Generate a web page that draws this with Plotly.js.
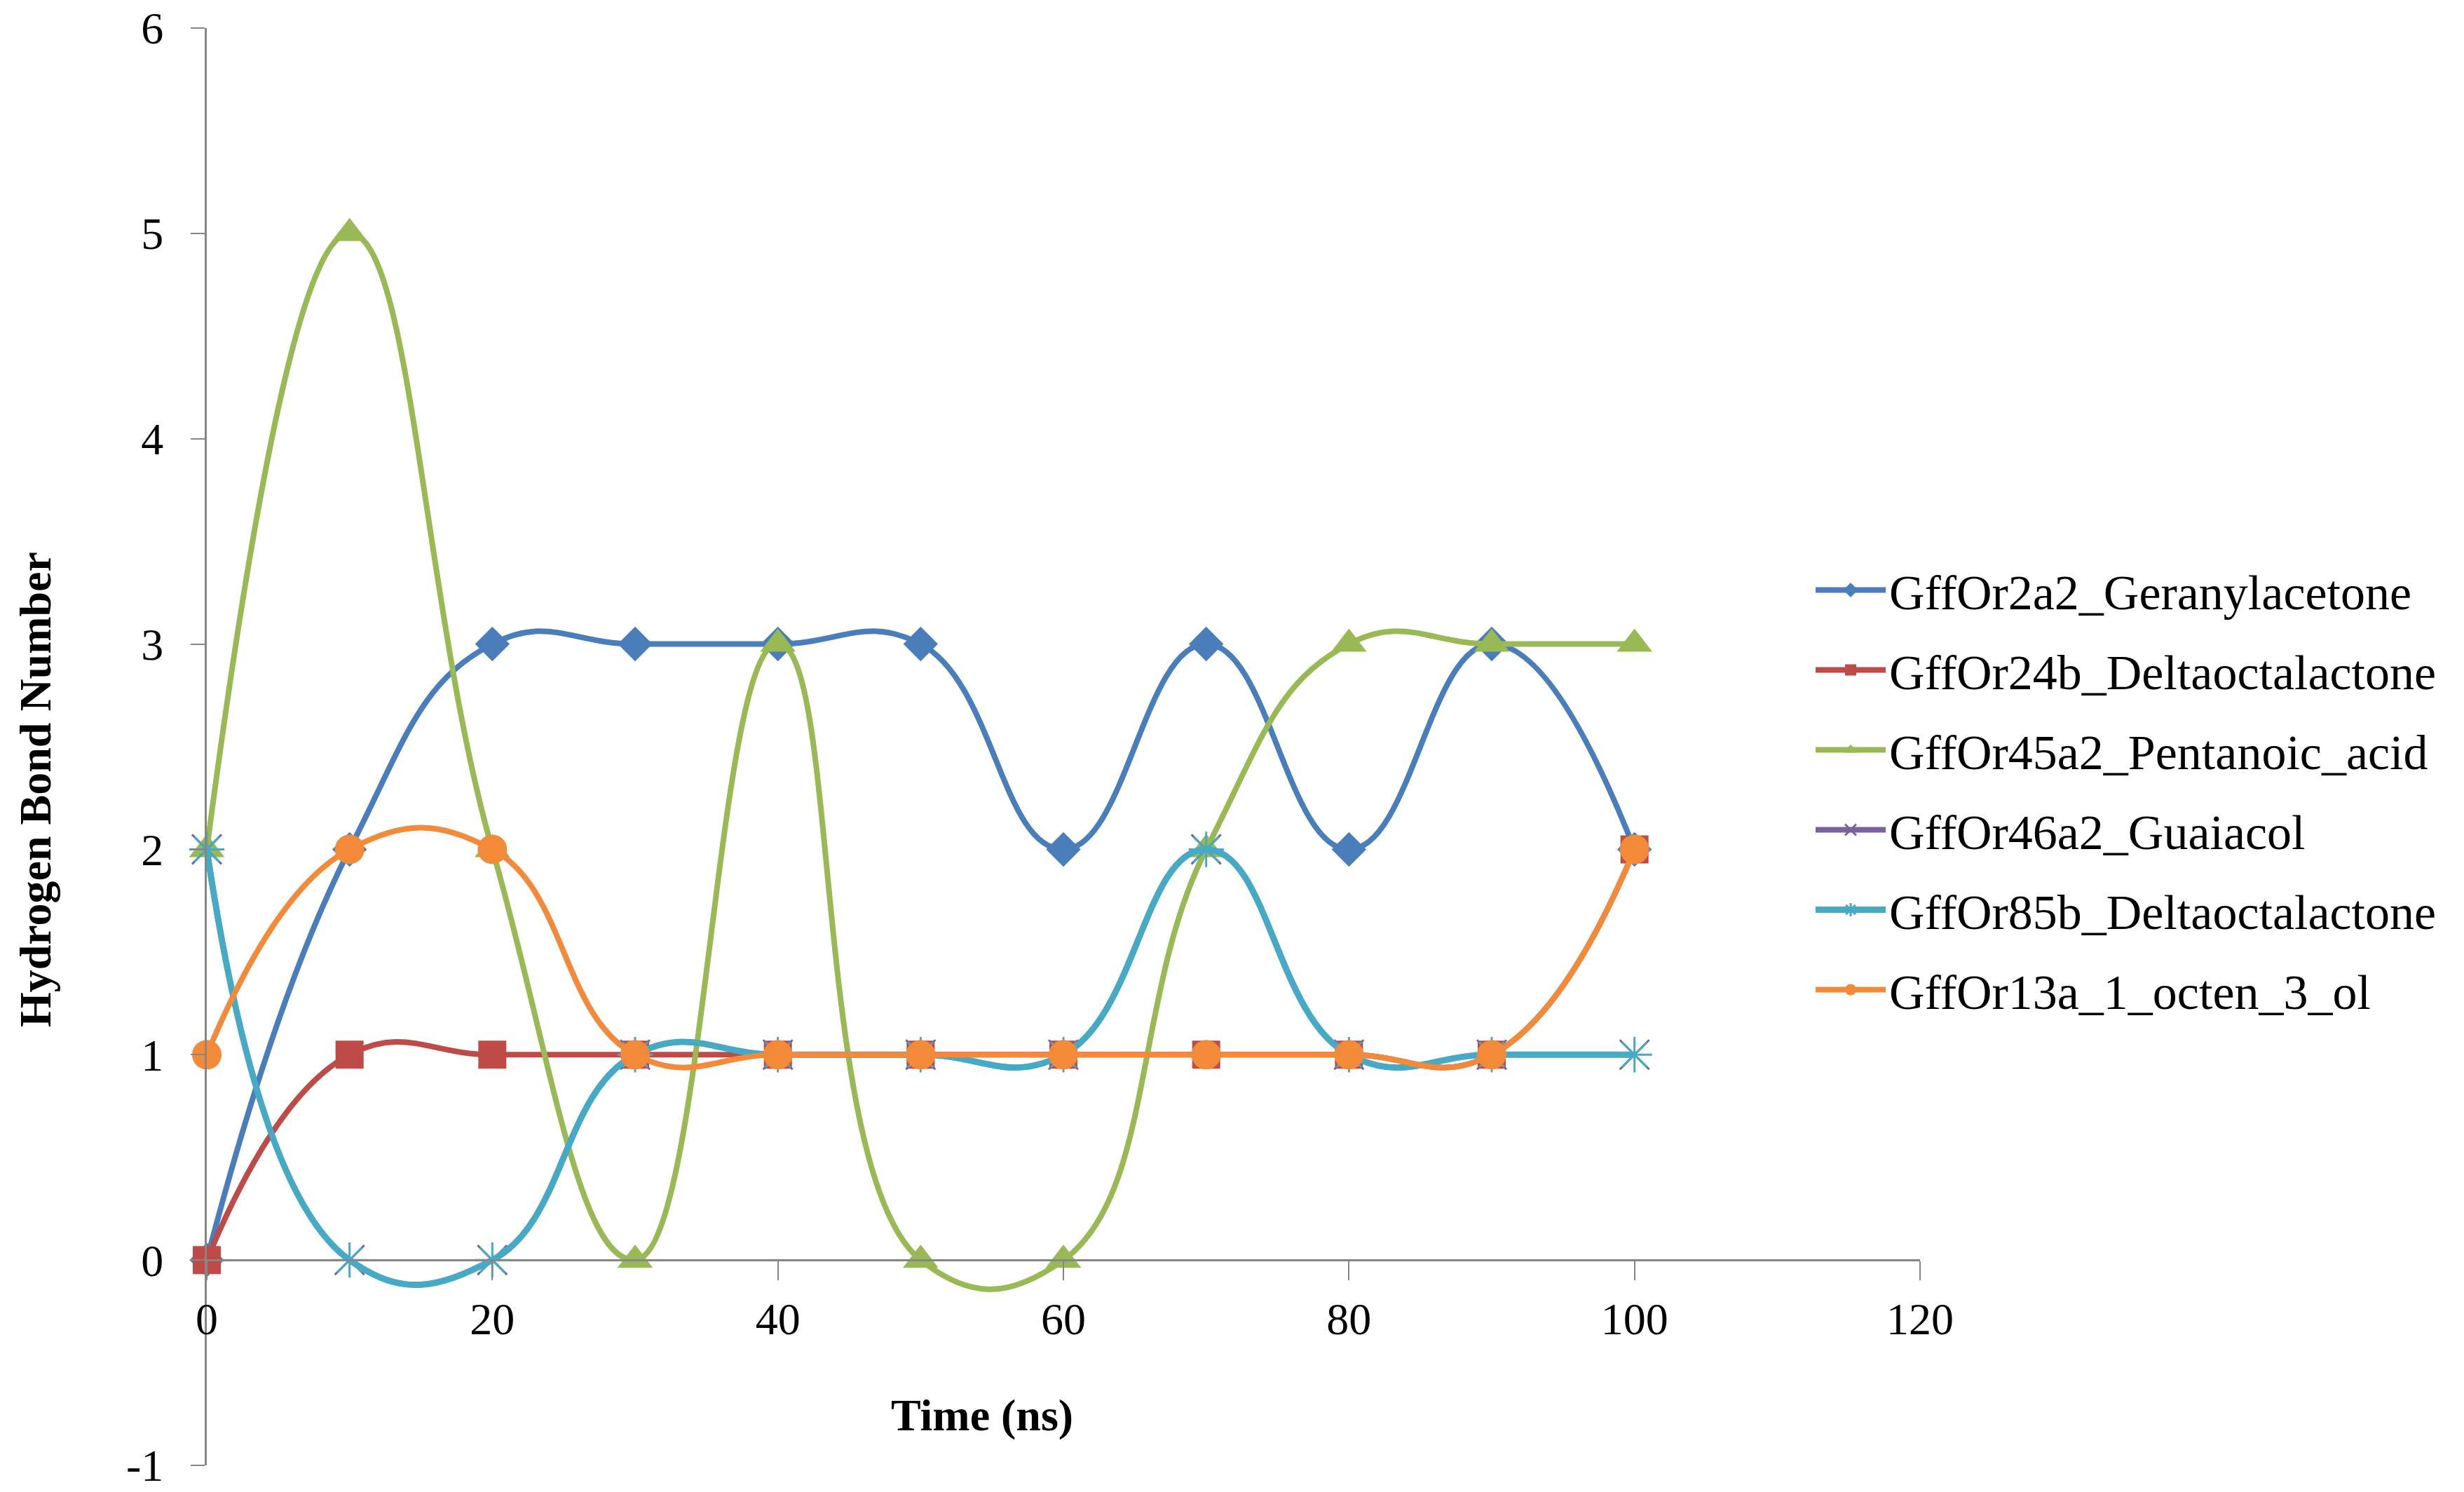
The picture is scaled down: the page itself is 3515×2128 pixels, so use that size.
<!doctype html>
<html>
<head>
  <meta charset="utf-8">
  <title>Hydrogen Bond Number</title>
  <script src="https://cdn.plot.ly/plotly-3.0.1.min.js"></script>
  <style>
    body { margin: 0; background: #fff; }
    #chart { width: 3515px; height: 2128px; }
  </style>
</head>
<body>
  <div id="chart"></div>
  <script>
    // time points (ns)
    var time = [0, 10, 20, 30, 40, 50, 60, 70, 80, 90, 100];

    // hydrogen bond counts per complex
    var geranylacetone = [0, 2, 3, 3, 3, 3, 2, 3, 2, 3, 2];
    var deltaoctalactone24b = [0, 1, 1, 1, 1, 1, 1, 1, 1, 1, 2];
    var pentanoicAcid = [2, 5, 2, 0, 3, 0, 0, 2, 3, 3, 3];
    var guaiacol = [2, 0, 0, 1, 1, 1, 1, 2, 1, 1, 1];
    var deltaoctalactone85b = [2, 0, 0, 1, 1, 1, 1, 2, 1, 1, 1];
    var octenol = [1, 2, 2, 1, 1, 1, 1, 1, 1, 1, 2];

    var names = ['GffOr2a2_Geranylacetone', 'GffOr24b_Deltaoctalactone', 'GffOr45a2_Pentanoic_acid',
                 'GffOr46a2_Guaiacol', 'GffOr85b_Deltaoctalactone', 'GffOr13a_1_octen_3_ol'];
    var yTicks = [-1, 0, 1, 2, 3, 4, 5, 6];
    var xTicks = [0, 20, 40, 60, 80, 100, 120];

    var series = [geranylacetone, deltaoctalactone24b, pentanoicAcid, guaiacol, deltaoctalactone85b, octenol];
    var colors = ['#4A7EBB', '#BE4B48', '#98B954', '#7D60A0', '#46AAC5', '#F38A3A'];
    var symbols = ['diamond', 'square', 'triangle-up', 'x-thin-open', 'asterisk-open', 'circle'];
    var sizes = [38, 40, 44, 42, 42, 42];

    var font = 'Liberation Serif, Times New Roman, serif';

    var traces = series.map(function(vals, i) {
      var open = symbols[i].indexOf('open') >= 0;
      return {
        x: time,
        y: vals,
        name: names[i],
        legendgroup: 'g' + i,
        type: 'scatter',
        mode: 'lines+markers',
        line: { color: colors[i], width: i === 4 ? 9 : 8, shape: 'spline', smoothing: 1.3 },
        marker: {
          symbol: symbols[i],
          size: sizes[i],
          color: colors[i],
          line: { color: colors[i], width: open ? 3 : 0 }
        },
        cliponaxis: false
      };
    });

    // y = 0 sits 1/7 of the way up the y range [-1, 6]
    var zeroPos = 1 / 7;

    var layout = {
      width: 3515,
      height: 2128,
      paper_bgcolor: '#ffffff',
      plot_bgcolor: '#ffffff',
      margin: { l: 295, r: 776, t: 40, b: 38 },
      font: { family: font, size: 64, color: '#000000' },
      showlegend: true,
      legend: {
        x: 0.937, xanchor: 'left',
        y: 0.470, yanchor: 'middle',
        traceorder: 'grouped',
        tracegroupgap: 20,
        itemwidth: 100,
        font: { family: font, size: 70, color: '#000000' },
        bgcolor: 'rgba(0,0,0,0)'
      },
      xaxis: {
        range: [0, 120],
        tickvals: xTicks,
        ticktext: xTicks.map(String),
        showgrid: false,
        zeroline: false,
        showline: true,
        linecolor: '#868686',
        linewidth: 3,
        ticks: 'outside',
        ticklen: 27,
        tickwidth: 2,
        tickcolor: '#868686',
        anchor: 'free',
        position: zeroPos,
        ticklabeloverflow: 'allow',
        tickfont: { family: font, size: 64 },
        fixedrange: true
      },
      yaxis: {
        range: [-1, 6],
        tickvals: yTicks,
        ticktext: yTicks.map(String),
        showgrid: false,
        zeroline: false,
        showline: true,
        linecolor: '#868686',
        linewidth: 3,
        ticks: 'outside',
        ticklen: 20,
        tickwidth: 2,
        tickcolor: '#868686',
        ticklabelstandoff: 26,
        ticklabeloverflow: 'allow',
        tickfont: { family: font, size: 64 },
        fixedrange: true
      },
      annotations: [
        {
          text: '<b>Hydrogen Bond Number</b>',
          xref: 'paper', yref: 'paper',
          x: -0.1, y: 0.47,
          xanchor: 'center', yanchor: 'middle',
          textangle: -90,
          showarrow: false,
          font: { family: font, size: 64, color: '#000000' }
        },
        {
          text: '<b>Time (ns)</b>',
          xref: 'paper', yref: 'paper',
          x: 0.4525, y: 0.035,
          xanchor: 'center', yanchor: 'middle',
          showarrow: false,
          font: { family: font, size: 64, color: '#000000' }
        }
      ]
    };

    Plotly.newPlot('chart', traces, layout, { staticPlot: true });
  </script>
</body>
</html>
